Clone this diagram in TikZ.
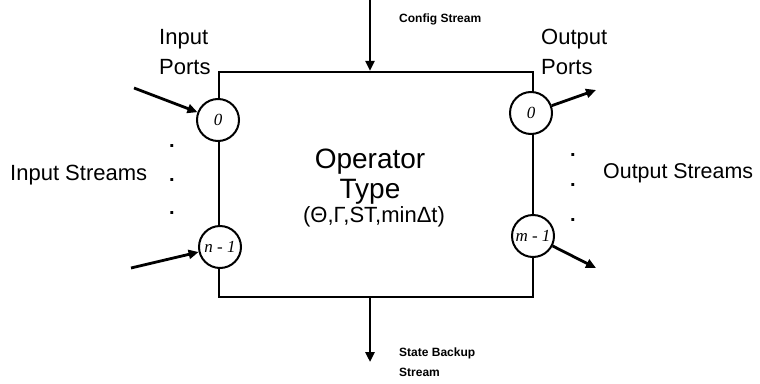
\documentclass[tikz,border=0pt]{standalone}
\usepackage{fontspec}
\setmainfont{Liberation Sans}
\newfontfamily\portfont{Liberation Serif}
\usetikzlibrary{arrows.meta}
\tikzset{
  boxline/.style={draw, line width=2.2pt},
  port/.style={circle, draw, line width=2pt, fill=white, minimum size=42pt, inner sep=0pt, font=\portfont\itshape\fontsize{17}{18}\selectfont},
  arr/.style={line width=2.8pt, -{Triangle[length=10pt,width=9pt]}},
  lbl/.style={inner sep=0pt, align=left, font=\fontsize{22}{30}\selectfont},
  small/.style={inner sep=0pt, align=left, font=\bfseries\fontsize{12}{20}\selectfont},
  dotn/.style={inner sep=0pt, font=\bfseries\fontsize{20}{20}\selectfont}
}
\begin{document}
\begin{tikzpicture}[x=1pt,y=-1pt]
\useasboundingbox (0,0) rectangle (760,383);
\node[boxline, minimum width=314pt, minimum height=225pt, inner sep=0pt] (op) at (376,184.5) {};
\node[port] (i0) at (218,120) {0};
\node[port] (i1) at (220,247) {n - 1};
\node[port] (o0) at (531,113) {0};
\node[port] (o1) at (533,236) {m - 1};
\coordinate (in0) at (134,88);
\coordinate (in1) at (131,268);
\coordinate (out0) at (596,90);
\coordinate (out1) at (596,268);
\coordinate (cfg) at (370,0);
\coordinate (sb) at (370,362);
\draw[arr] (in0) -- (i0);
\draw[arr] (in1) -- (i1);
\draw[arr] (o0) -- (out0);
\draw[arr] (o1) -- (out1);
\draw[arr] (cfg) -- (cfg |- op.north);
\draw[arr] (sb |- op.south) -- (sb);
\node[lbl, anchor=west] (ip) at (159,52) {Input\\Ports};
\node[lbl, anchor=west] (opo) at (541,52) {Output\\Ports};
\node[lbl, anchor=west] (is) at (10,175) {Input Streams};
\node[lbl, anchor=west, font=\fontsize{21.4}{30}\selectfont] (os) at (603,173) {Output Streams};
\node[small, anchor=west] (cs) at (399,19) {Config Stream};
\node[small, anchor=west] (sbs) at (399,362) {State Backup\\Stream};
\node[inner sep=0pt, align=center, font=\fontsize{28}{30}\selectfont] (optype) at (370,177) {Operator\\Type};
\node[inner sep=0pt, font=\fontsize{22}{22}\selectfont] (params) at (374,217) {(Θ,Γ,ST,minΔt)};
\node[dotn] (dl1) at (172,146) {.};
\node[dotn] (dl2) at (172,180) {.};
\node[dotn] (dl3) at (172,213) {.};
\node[dotn] (dr1) at (573,155) {.};
\node[dotn] (dr2) at (573,185) {.};
\node[dotn] (dr3) at (573,220) {.};
\end{tikzpicture}
\end{document}
